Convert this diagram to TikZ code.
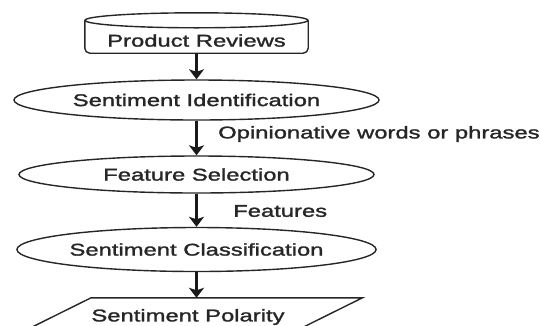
\documentclass[tikz,border=0pt]{standalone}
\usepackage{fontspec}
\setmainfont[FakeStretch=1.4, FakeBold=1.6]{Liberation Sans}
\usetikzlibrary{shapes.geometric,arrows.meta}
\begin{document}
\begin{tikzpicture}[x=1pt,y=-1pt,
  every node/.style={font=\fontsize{17}{20}\selectfont, text=black!85},
  proc/.style={ellipse, draw=black!85, line width=1.4pt, inner sep=0pt},
  flow/.style={draw=black!90, line width=2.4pt,
    -{Stealth[length=10pt,width=15pt,inset=2.5pt]}},
  outline/.style={draw=black!85, line width=1.4pt},
  lbl/.style={anchor=west, inner sep=0pt}]
\useasboundingbox (0,0) rectangle (540,325);
\clip (0,0) rectangle (540,325);

% data source drawn as a cylinder
\node[minimum width=223pt, minimum height=25pt, inner sep=0pt] (rev) at (196.5,40.5) {Product Reviews};
\draw[outline, rounded corners=5pt] ([yshift=7.5pt]rev.north west) -- (rev.south west)
  -- (rev.south east) -- ([yshift=7.5pt]rev.north east);
\draw[outline] ([yshift=7.5pt]rev.north) ellipse [x radius=111.5pt, y radius=7.5pt];

% processing steps
\node[proc, minimum width=365pt, minimum height=40pt] (ident) at (196.5,100) {Sentiment Identification};
\node[proc, minimum width=355pt, minimum height=37pt] (feat) at (196.5,174.5) {Feature Selection};
\node[proc, minimum width=353pt, minimum height=44pt] (class) at (196.5,249.5) {Sentiment Classification};

% output drawn as a parallelogram
\node[minimum width=271pt, minimum height=38pt, inner sep=0pt] (pol) at (188,317) {Sentiment Polarity};
\draw[outline] ([xshift=38.7pt]pol.north west) -- ([xshift=38.7pt]pol.north east)
  -- ([xshift=-38.7pt]pol.south east) -- ([xshift=-38.7pt]pol.south west) -- cycle;

% connectors
\draw[flow] (rev.south) -- (ident.north);
\draw[flow] (ident.south) -- (feat.north);
\draw[flow] (feat.south) -- (class.north);
\draw[flow] (class.south) -- (class.south |- pol.north);

% edge labels
\node[lbl] (lop) at (218,134) {Opinionative words or phrases};
\node[lbl] (lfe) at (233,211) {Features};
\end{tikzpicture}
\end{document}
